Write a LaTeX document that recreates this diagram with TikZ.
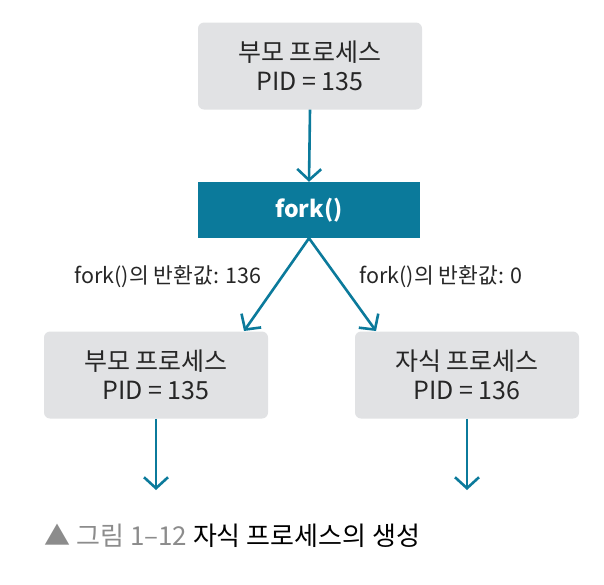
\documentclass[tikz,border=0pt]{standalone}
\usepackage{fontspec}
\setmainfont{Noto Sans CJK KR}
\usetikzlibrary{arrows.meta}
\definecolor{boxgray}{HTML}{E1E2E4}
\definecolor{teal}{HTML}{0B7A9B}
\definecolor{capgray}{HTML}{8C8C8C}
\tikzset{
  proc/.style={fill=boxgray, rounded corners=6pt, minimum width=224pt, minimum height=87pt, align=center, font=\fontsize{25}{29}\selectfont, text=black!85},
  forkbox/.style={fill=teal, minimum width=222pt, minimum height=56pt, text=white, font=\fontsize{23}{26}\selectfont\bfseries},
  conn/.style={draw=teal, line width=2.6pt, -{Straight Barb[length=11pt, width=24pt, line width=2.6pt]}},
  lbl/.style={font=\fontsize{21.5}{24}\selectfont, text=black!85}
}
\begin{document}
\begin{tikzpicture}[x=1pt, y=-1pt]
\useasboundingbox (0,0) rectangle (604,584);
\node[proc] (top) at (310,66) {부모 프로세스\\PID = 135};
\node[forkbox] (fork) at (309,210) {fork()};
\node[proc] (left) at (156,375) {부모 프로세스\\PID = 135};
\node[proc] (right) at (467,375) {자식 프로세스\\PID = 136};
\coordinate (lend) at (156,490);
\coordinate (rend) at (467,490);
\coordinate (ltip) at (244,331);
\coordinate (rtip) at (376,331);
\draw[conn] (top.south) -- (fork.north);
\draw[conn] (fork.south) -- (ltip);
\draw[conn] (fork.south) -- (rtip);
\draw[conn] (left.south) -- (lend);
\draw[conn] (right.south) -- (rend);
\node[lbl] (l1) at (168,277) {fork()의 반환값: 136};
\node[lbl] (l2) at (441,277) {fork()의 반환값: 0};
\node[anchor=west, font=\fontsize{26}{30}\selectfont] (cap) at (41,536) {\textcolor{capgray}{▲ 그림 1–12} 자식 프로세스의 생성};
\end{tikzpicture}
\end{document}
